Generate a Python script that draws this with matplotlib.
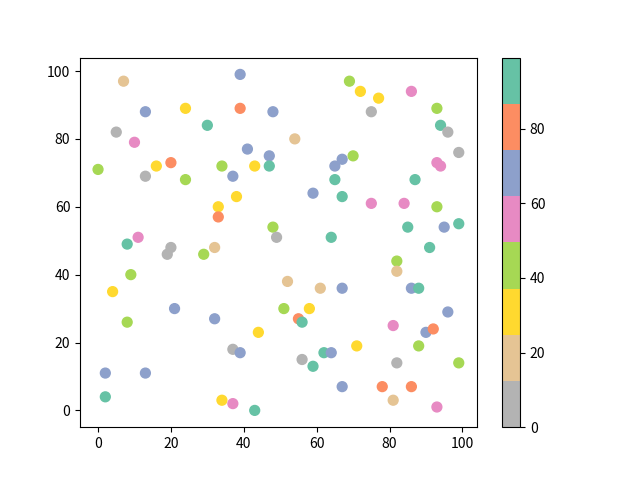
import numpy as np
import matplotlib.pyplot as plt

plt.rcParams['font.family'] = ['Noto Sans CJK SC', 'DejaVu Sans']

# colour value per bin of the Set2_r colormap (0..99 split in 8 bins)
GRAY, TAN, YELLOW, GREEN, PINK, BLUE, ORANGE, TEAL = 6, 18, 31, 43, 55, 68, 80, 93

x = [7, 39, 13, 24, 39, 48, 30, 5, 10, 41, 47, 47, 43, 34, 20, 16, 0, 13, 24, 37,
     38, 33, 33, 48, 49, 11, 8,
     69, 72, 77, 86, 75, 93, 94, 96, 99, 54, 67, 65, 70, 65, 87, 93, 94, 59, 67, 75,
     84, 93, 64, 85, 95, 99,
     20, 19, 29, 32, 9, 4, 21, 32, 8, 44, 37, 39, 2, 13, 2, 34, 37, 43,
     91, 82, 82, 52, 61, 67, 86, 88, 51, 58, 55, 56, 96, 81, 90, 92, 88, 71, 62, 64,
     56, 59, 82, 99, 67, 78, 86, 81, 93]
y = [97, 99, 88, 89, 89, 88, 84, 82, 79, 77, 75, 72, 72, 72, 73, 72, 71, 69, 68, 69,
     63, 60, 57, 54, 51, 51, 49,
     97, 94, 92, 94, 88, 89, 84, 82, 76, 80, 74, 72, 75, 68, 68, 73, 72, 64, 63, 61,
     61, 60, 51, 54, 54, 55,
     48, 46, 46, 48, 40, 35, 30, 27, 26, 23, 18, 17, 11, 11, 4, 3, 2, 0,
     48, 44, 41, 38, 36, 36, 36, 36, 30, 30, 27, 26, 29, 25, 23, 24, 19, 19, 17, 17,
     15, 13, 14, 14, 7, 7, 7, 3, 1]
c = [TAN, BLUE, BLUE, YELLOW, ORANGE, BLUE, TEAL, GRAY, PINK, BLUE, BLUE, TEAL, YELLOW,
     GREEN, ORANGE, YELLOW, GREEN, GRAY, GREEN, BLUE, YELLOW, YELLOW, ORANGE, GREEN,
     GRAY, PINK, TEAL,
     GREEN, YELLOW, YELLOW, PINK, GRAY, GREEN, TEAL, GRAY, GRAY, TAN, BLUE, BLUE, GREEN,
     TEAL, TEAL, PINK, PINK, BLUE, TEAL, PINK, PINK, GREEN, TEAL, TEAL, BLUE, TEAL,
     GRAY, GRAY, GREEN, TAN, GREEN, YELLOW, BLUE, BLUE, GREEN, YELLOW, GRAY, BLUE, BLUE,
     BLUE, TEAL, YELLOW, PINK, TEAL,
     TEAL, GREEN, TAN, TAN, TAN, BLUE, BLUE, TEAL, GREEN, YELLOW, ORANGE, TEAL, BLUE,
     PINK, BLUE, ORANGE, GREEN, YELLOW, TEAL, BLUE, GRAY, TEAL, GRAY, GREEN, BLUE,
     ORANGE, ORANGE, TAN, PINK]

fig = plt.figure(figsize=(6.4, 4.8), dpi=100)
sc = plt.scatter(x, y, c=c, cmap='Set2_r', vmin=0, vmax=99, s=50)
plt.colorbar(sc)

plt.savefig('out.png')
